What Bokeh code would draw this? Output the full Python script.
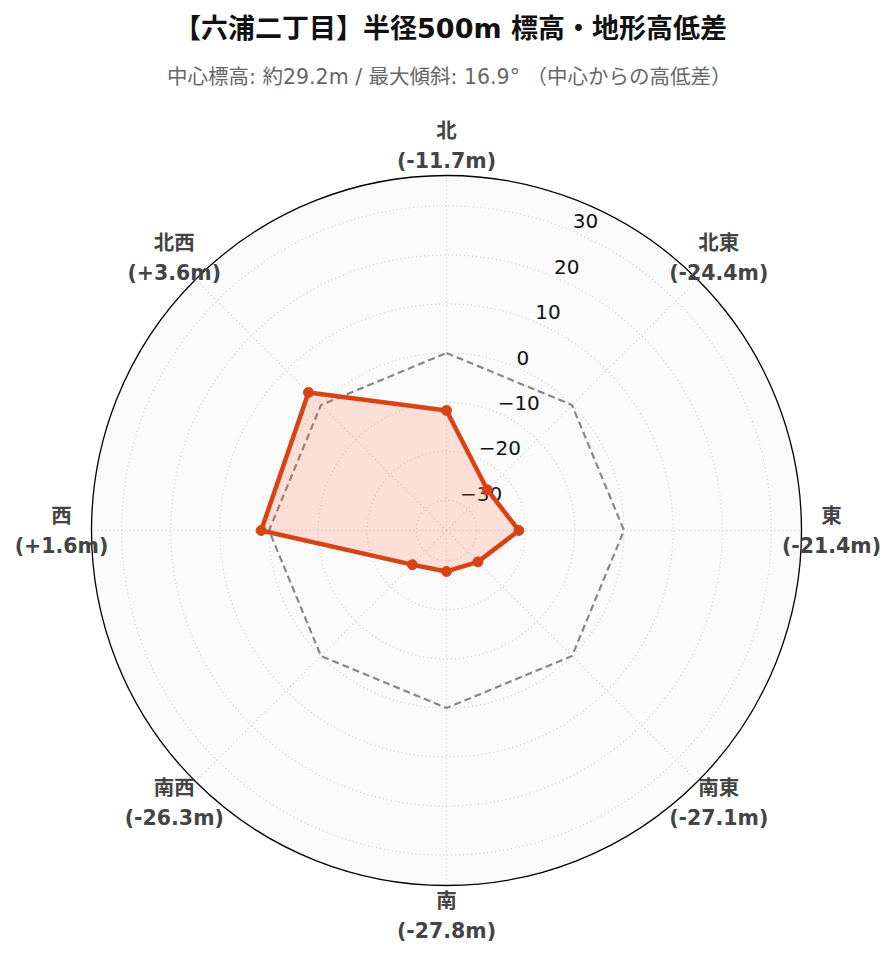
import numpy as np
from bokeh.plotting import figure
from bokeh.models import Range1d
from bokeh.core.properties import value
from bokeh.embed import file_html
from bokeh.resources import INLINE

# ---- data ----
directions = ["北", "北東", "東", "南東", "南", "南西", "西", "北西"]
diffs = [-11.7, -24.4, -21.4, -27.1, -27.8, -26.3, 1.6, 3.6]
reference = [0, 0, 0, 0, 0, 0, 0, 0]
radial_ticks = [-30, -20, -10, 0, 10, 20, 30]
title_text = "【六浦二丁目】半径500m 標高・地形高低差"
subtitle_text = "中心標高: 約29.2m / 最大傾斜: 16.9°  （中心からの高低差）"

R = 27.8 * 1.3          # radial range [-R, R]
OUT = 355.0             # outer radius in px
k = OUT / (2 * R)

W, H = 880, 946
cx, cy = 446, 530      # center inside figure (from left / from top)

p = figure(width=W, height=H, output_backend="svg", toolbar_location=None,
           x_range=Range1d(-cx, W - cx), y_range=Range1d(-(H - cy), cy),
           min_border=0, outline_line_color=None)
p.axis.visible = False
p.grid.visible = False
p.background_fill_color = "white"
p.border_fill_color = "white"

LAT = "DejaVu Sans, Noto Sans CJK JP"

def rad(v):
    return (np.asarray(v, dtype=float) + R) * k

ang = np.deg2rad(90 - 45 * np.arange(len(directions)))

# background disc
p.ellipse(x=0, y=0, width=2 * OUT, height=2 * OUT, fill_color="#fafafa",
          line_color=None)

# grid circles
gr = rad(radial_ticks)
p.ellipse(x=np.zeros(len(gr)), y=np.zeros(len(gr)), width=2 * gr, height=2 * gr,
          fill_color=None, line_color="#d6d6d6", line_width=1.3, line_dash="1 3")
# angular grid
p.segment(x0=np.zeros(8), y0=np.zeros(8), x1=OUT * np.cos(ang), y1=OUT * np.sin(ang),
          line_color="#d6d6d6", line_width=1.3, line_dash="1 3")

# outer circle
p.ellipse(x=0, y=0, width=2 * OUT, height=2 * OUT, fill_color=None,
          line_color="black", line_width=1.3)

# radial tick labels along 22.5 deg from north
ta = np.deg2rad(90 - 22.5)
tick_lbl = [("\u2212" + str(-t)) if t < 0 else str(t) for t in radial_ticks]
p.text(x=gr * np.cos(ta) + 2, y=gr * np.sin(ta) + 9, text=tick_lbl,
       text_font=value(LAT), text_font_size="20px", text_color="#111",
       text_align="left", text_baseline="middle")

# reference polygon (0 m)
rr = rad(reference)
rx = list(rr * np.cos(ang)) + [rr[0] * np.cos(ang[0])]
ry = list(rr * np.sin(ang)) + [rr[0] * np.sin(ang[0])]
p.line(rx, ry, line_color="#888888", line_width=2.2, line_dash="7 4")

# data polygon
dr = rad(diffs)
dx = dr * np.cos(ang)
dy = dr * np.sin(ang)
p.patch(list(dx), list(dy), fill_color="#ff5722", fill_alpha=0.17,
        line_color="#d84315", line_width=4.5, line_join="round")
p.scatter(dx, dy, size=10, fill_color="#d84315", line_color="#d84315")

# direction labels
LR = OUT + 30
lx = LR * np.cos(ang)
ly = LR * np.sin(ang)
vals = [("(+%.1fm)" % d) if d > 0 else ("(%.1fm)" % d) for d in diffs]
p.text(x=lx, y=ly + 15, text=directions, text_font=value(LAT),
       text_font_size="20.5px", text_font_style="bold", text_color="#444",
       text_align="center", text_baseline="middle")
p.text(x=lx, y=ly - 15, text=vals, text_font=value(LAT),
       text_font_size="20.5px", text_font_style="bold", text_color="#444",
       text_align="center", text_baseline="middle")

# titles
p.text(x=[4], y=[502], text=[title_text], text_font=value(LAT),
       text_font_size="27px", text_font_style="bold", text_color="#111",
       text_align="center", text_baseline="middle")
p.text(x=[6], y=[454], text=[subtitle_text], text_font=value(LAT),
       text_font_size="20.5px", text_color="#666", text_align="center",
       text_baseline="middle")

open("out.html", "w").write(file_html(p, INLINE))
